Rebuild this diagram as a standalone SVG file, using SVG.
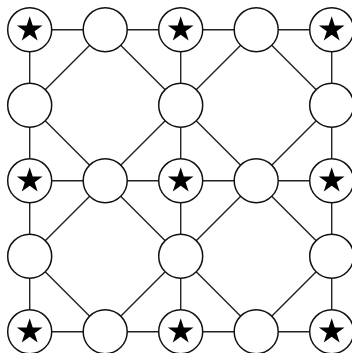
<svg xmlns="http://www.w3.org/2000/svg" xmlns:xlink="http://www.w3.org/1999/xlink" width="352" height="353" viewBox="0 0 352 353">
<style>
.e{stroke:#222;stroke-width:1.4;fill:none}
.n{fill:#fff;stroke:#111;stroke-width:1.5}
.s{fill:#000}
</style>
<defs>
<path id="star" class="s" d="M0,-13.5 L3.03,-4.17 L12.84,-4.17 L4.91,1.59 L7.94,10.92 L0,5.16 L-7.94,10.92 L-4.91,1.59 L-12.84,-4.17 L-3.03,-4.17 Z"/>
</defs>
<rect width="352" height="353" fill="#fff"/>
<g id="connectors" class="e">
<line x1="29.7" y1="29.7" x2="331.7" y2="29.7"/>
<line x1="29.7" y1="180.7" x2="331.7" y2="180.7"/>
<line x1="29.7" y1="331.7" x2="331.7" y2="331.7"/>
<line x1="29.7" y1="29.7" x2="29.7" y2="331.7"/>
<line x1="180.7" y1="29.7" x2="180.7" y2="331.7"/>
<line x1="331.7" y1="29.7" x2="331.7" y2="331.7"/>
<line x1="105.2" y1="29.7" x2="29.7" y2="105.2"/>
<line x1="105.2" y1="29.7" x2="180.7" y2="105.2"/>
<line x1="256.2" y1="29.7" x2="180.7" y2="105.2"/>
<line x1="256.2" y1="29.7" x2="331.7" y2="105.2"/>
<line x1="105.2" y1="180.7" x2="29.7" y2="105.2"/>
<line x1="105.2" y1="180.7" x2="180.7" y2="105.2"/>
<line x1="105.2" y1="180.7" x2="29.7" y2="256.2"/>
<line x1="105.2" y1="180.7" x2="180.7" y2="256.2"/>
<line x1="256.2" y1="180.7" x2="180.7" y2="105.2"/>
<line x1="256.2" y1="180.7" x2="331.7" y2="105.2"/>
<line x1="256.2" y1="180.7" x2="180.7" y2="256.2"/>
<line x1="256.2" y1="180.7" x2="331.7" y2="256.2"/>
<line x1="105.2" y1="331.7" x2="29.7" y2="256.2"/>
<line x1="105.2" y1="331.7" x2="180.7" y2="256.2"/>
<line x1="256.2" y1="331.7" x2="180.7" y2="256.2"/>
<line x1="256.2" y1="331.7" x2="331.7" y2="256.2"/>
</g>
<g id="n00" transform="translate(29.7,29.7)"><circle class="n" r="22"/><use href="#star" xlink:href="#star"/></g>
<g id="n10" transform="translate(105.2,29.7)"><circle class="n" r="22"/></g>
<g id="n20" transform="translate(180.7,29.7)"><circle class="n" r="22"/><use href="#star" xlink:href="#star"/></g>
<g id="n30" transform="translate(256.2,29.7)"><circle class="n" r="22"/></g>
<g id="n40" transform="translate(331.7,29.7)"><circle class="n" r="22"/><use href="#star" xlink:href="#star"/></g>
<g id="n01" transform="translate(29.7,105.2)"><circle class="n" r="22"/></g>
<g id="n21" transform="translate(180.7,105.2)"><circle class="n" r="22"/></g>
<g id="n41" transform="translate(331.7,105.2)"><circle class="n" r="22"/></g>
<g id="n02" transform="translate(29.7,180.7)"><circle class="n" r="22"/><use href="#star" xlink:href="#star"/></g>
<g id="n12" transform="translate(105.2,180.7)"><circle class="n" r="22"/></g>
<g id="n22" transform="translate(180.7,180.7)"><circle class="n" r="22"/><use href="#star" xlink:href="#star"/></g>
<g id="n32" transform="translate(256.2,180.7)"><circle class="n" r="22"/></g>
<g id="n42" transform="translate(331.7,180.7)"><circle class="n" r="22"/><use href="#star" xlink:href="#star"/></g>
<g id="n03" transform="translate(29.7,256.2)"><circle class="n" r="22"/></g>
<g id="n23" transform="translate(180.7,256.2)"><circle class="n" r="22"/></g>
<g id="n43" transform="translate(331.7,256.2)"><circle class="n" r="22"/></g>
<g id="n04" transform="translate(29.7,331.7)"><circle class="n" r="22"/><use href="#star" xlink:href="#star"/></g>
<g id="n14" transform="translate(105.2,331.7)"><circle class="n" r="22"/></g>
<g id="n24" transform="translate(180.7,331.7)"><circle class="n" r="22"/><use href="#star" xlink:href="#star"/></g>
<g id="n34" transform="translate(256.2,331.7)"><circle class="n" r="22"/></g>
<g id="n44" transform="translate(331.7,331.7)"><circle class="n" r="22"/><use href="#star" xlink:href="#star"/></g>
</svg>
